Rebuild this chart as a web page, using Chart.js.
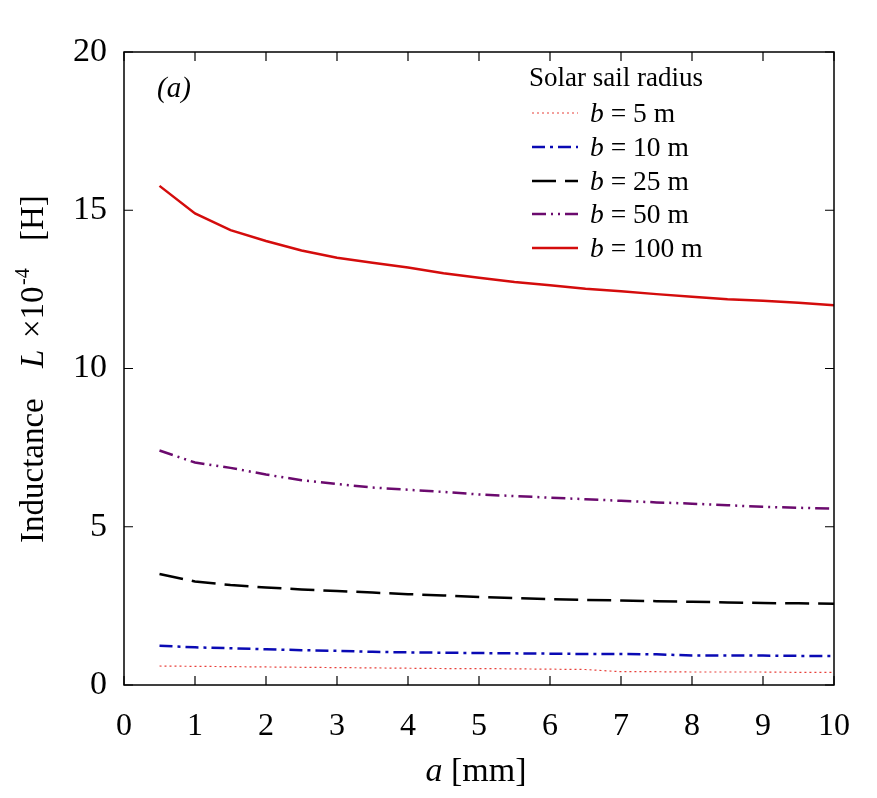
<!DOCTYPE html>
<html>
<head>
<meta charset="utf-8">
<script src="https://cdn.jsdelivr.net/npm/chart.js@4.4.1/dist/chart.umd.min.js"></script>
<style>
html,body{margin:0;padding:0;background:#fff;}
#wrap{width:877px;height:798px;position:relative;}
</style>
</head>
<body>
<div id="wrap"><canvas id="c" width="877" height="798"></canvas></div>
<script>
// ---- data ----
const aValues = [0.5,1,1.5,2,2.5,3,3.5,4,4.5,5,5.5,6,6.5,7,7.5,8,8.5,9,9.5,10];
const b5   = [0.60,0.59,0.58,0.57,0.56,0.55,0.54,0.53,0.52,0.52,0.51,0.50,0.49,0.42,0.42,0.41,0.41,0.41,0.40,0.40];
const b10  = [1.24,1.19,1.16,1.13,1.10,1.08,1.05,1.03,1.02,1.01,1.00,0.99,0.98,0.98,0.97,0.93,0.93,0.93,0.92,0.92];
const b25  = [3.51,3.27,3.16,3.08,3.02,2.97,2.92,2.87,2.83,2.78,2.75,2.71,2.69,2.67,2.65,2.63,2.61,2.59,2.58,2.57];
const b50  = [7.41,7.03,6.86,6.65,6.47,6.35,6.24,6.17,6.10,6.02,5.97,5.92,5.87,5.82,5.77,5.73,5.68,5.63,5.60,5.57];
const b100 = [15.77,14.90,14.37,14.03,13.73,13.50,13.34,13.19,13.01,12.87,12.73,12.63,12.52,12.44,12.35,12.27,12.19,12.14,12.08,12.00];
const seriesLabels = ['5','10','25','50','100'];
const xTicks = [0,1,2,3,4,5,6,7,8,9,10];
const yTicks = [0,5,10,15,20];

const SERIF = '"Liberation Serif","Times New Roman",serif';

function pts(vals){ return aValues.map((a,i)=>({x:a,y:vals[i]})); }

const styles = [
  {color:'#e8403a', width:1.2, dash:[2,3]},
  {color:'#0a0ab4', width:2.5, dash:[13,5,3,5]},
  {color:'#000000', width:2.5, dash:[24,9]},
  {color:'#6b0a6e', width:2.5, dash:[14,5,2,5,2,5]},
  {color:'#d40c0c', width:2.5, dash:[]}
];
const allVals = [b5,b10,b25,b50,b100];

const datasets = allVals.map((v,i)=>({
  label: 'b = ' + seriesLabels[i] + ' m',
  data: pts(v),
  borderColor: styles[i].color,
  borderWidth: styles[i].width,
  borderDash: styles[i].dash,
  pointRadius: 0,
  fill: false,
  tension: 0
}));

const decor = {
  id:'decor',
  afterDraw(chart){
    const ctx = chart.ctx;
    const ca = chart.chartArea;
    const xs = chart.scales.x, ys = chart.scales.y;
    ctx.save();
    // frame
    ctx.strokeStyle = '#000'; ctx.lineWidth = 1.5; ctx.setLineDash([]);
    ctx.strokeRect(ca.left, ca.top, ca.right-ca.left, ca.bottom-ca.top);
    // inward ticks
    const tl = 9;
    ctx.lineWidth = 1.2;
    ctx.beginPath();
    xTicks.forEach(t=>{
      const px = xs.getPixelForValue(t);
      ctx.moveTo(px, ca.bottom); ctx.lineTo(px, ca.bottom-tl);
      ctx.moveTo(px, ca.top); ctx.lineTo(px, ca.top+tl);
    });
    yTicks.forEach(t=>{
      const py = ys.getPixelForValue(t);
      ctx.moveTo(ca.left, py); ctx.lineTo(ca.left+tl, py);
      ctx.moveTo(ca.right, py); ctx.lineTo(ca.right-tl, py);
    });
    ctx.stroke();

    // (a) label
    ctx.fillStyle = '#000';
    ctx.font = 'italic 29px ' + SERIF;
    ctx.textBaseline = 'middle';
    ctx.textAlign = 'left';
    ctx.fillText('(a)', 157, 89);

    // legend
    ctx.font = '27px ' + SERIF;
    ctx.fillText('Solar sail radius', 529, 79);
    const rowY = [113,147,181,214,248];
    chart.data.datasets.forEach((ds,i)=>{
      const y = rowY[i];
      ctx.strokeStyle = ds.borderColor;
      ctx.lineWidth = ds.borderWidth;
      ctx.setLineDash(ds.borderDash);
      ctx.beginPath(); ctx.moveTo(532,y); ctx.lineTo(578,y); ctx.stroke();
      ctx.setLineDash([]);
      ctx.font = 'italic 27.5px ' + SERIF;
      ctx.fillStyle = '#000';
      ctx.fillText('b', 590, y+2);
      const w = ctx.measureText('b').width;
      ctx.font = '27.5px ' + SERIF;
      ctx.fillText(' = ' + seriesLabels[i] + ' m', 590 + w, y+2);
    });

    // x title: a [mm]
    ctx.textBaseline = 'alphabetic';
    ctx.font = 'italic 34px ' + SERIF;
    const wa = ctx.measureText('a ').width;
    ctx.font = '34px ' + SERIF;
    const wr = ctx.measureText('[mm]').width;
    let sx = 476 - (wa+wr)/2;
    ctx.font = 'italic 34px ' + SERIF;
    ctx.fillText('a ', sx, 781);
    ctx.font = '34px ' + SERIF;
    ctx.fillText('[mm]', sx+wa, 781);

    // y title rotated; u = -screenY
    ctx.save();
    ctx.translate(43, 0);
    ctx.rotate(-Math.PI/2);
    ctx.font = '33px ' + SERIF;
    ctx.fillText('Inductance', -543, 0);
    ctx.font = 'italic 33px ' + SERIF;
    ctx.fillText('L', -368, 0);
    ctx.font = '33px ' + SERIF;
    ctx.fillText('\u00d710', -338, 0);
    ctx.font = '20px ' + SERIF;
    ctx.fillText('-4', -285, -14);
    ctx.font = '33px ' + SERIF;
    ctx.fillText('[H]', -241, 0);
    ctx.restore();

    ctx.restore();
  }
};

new Chart(document.getElementById('c'), {
  type:'line',
  data:{datasets},
  options:{
    responsive:false,
    animation:false,
    layout:{padding:{top:52,right:43,left:0,bottom:0}},
    plugins:{legend:{display:false}, tooltip:{enabled:false}},
    scales:{
      x:{
        type:'linear', min:0, max:10,
        afterFit(s){ s.height = 113; },
        afterBuildTicks(s){ s.ticks = xTicks.map(v=>({value:v})); },
        grid:{display:false, drawTicks:false},
        border:{display:false},
        ticks:{color:'#000', font:{family:SERIF, size:32}, padding:22, maxRotation:0}
      },
      y:{
        type:'linear', min:0, max:20,
        afterFit(s){ s.width = 124; },
        afterBuildTicks(s){ s.ticks = yTicks.map(v=>({value:v})); },
        grid:{display:false, drawTicks:false},
        border:{display:false},
        ticks:{color:'#000', font:{family:SERIF, size:34}, padding:17}
      }
    }
  },
  plugins:[decor]
});
</script>
</body>
</html>
